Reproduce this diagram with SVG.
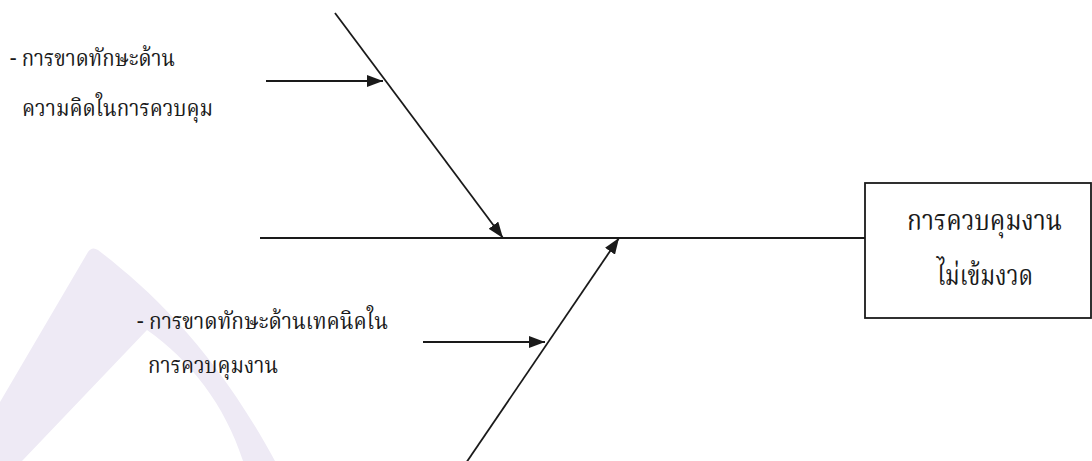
<svg xmlns="http://www.w3.org/2000/svg" width="1092" height="461" viewBox="0 0 1092 461">
  <style>
    .ln { stroke: #1a1a1a; stroke-width: 1.8; fill: none; }
    .arr { marker-end: url(#ah); }
    .t { font-family: "Noto Serif Thai", "Noto Sans Thai", "Liberation Serif", serif; fill: #1a1a1a; }
    .sm { font-size: 23px; }
    .lg { font-size: 28px; }
    .box { fill: #ffffff; stroke: #1a1a1a; stroke-width: 1.8; }
  </style>
  <defs>
    <marker id="ah" markerUnits="userSpaceOnUse" markerWidth="16" markerHeight="12" refX="16" refY="6" orient="auto">
      <path d="M0,0 L16,6 L0,12 Z" fill="#1a1a1a"/>
    </marker>
  </defs>
  <rect width="1092" height="461" fill="#ffffff"/>
  <g id="watermark" fill="#EEEAF5">
    <path d="M88,252 Q92,246 98,250 C150,290 215,350 275,461 L243,461 C225,405 190,360 147,330 L22,461 L0,461 L0,402 Z"/>
  </g>
  <g id="connectors">
    <line class="ln" x1="260" y1="238" x2="865" y2="238"/>
    <line class="ln arr" x1="335" y1="13" x2="503" y2="238"/>
    <line class="ln arr" x1="466" y1="463" x2="619" y2="238"/>
    <line class="ln arr" x1="266" y1="81" x2="383" y2="81"/>
    <line class="ln arr" x1="423" y1="342" x2="545" y2="342"/>
  </g>
  <g id="cause1">
    <text class="t sm" x="10" y="66" textLength="165" lengthAdjust="spacingAndGlyphs">- การขาดทักษะด้าน</text>
    <text class="t sm" x="22" y="116" textLength="191" lengthAdjust="spacingAndGlyphs">ความคิดในการควบคุม</text>
  </g>
  <g id="cause2">
    <text class="t sm" x="137" y="329" textLength="251" lengthAdjust="spacingAndGlyphs">- การขาดทักษะด้านเทคนิคใน</text>
    <text class="t sm" x="148" y="373" textLength="130" lengthAdjust="spacingAndGlyphs">การควบคุมงาน</text>
  </g>
  <g id="effect">
    <rect class="box" x="865" y="183" width="226" height="135"/>
    <text class="t lg" x="907" y="230" textLength="155" lengthAdjust="spacingAndGlyphs">การควบคุมงาน</text>
    <text class="t lg" x="937" y="285" textLength="96" lengthAdjust="spacingAndGlyphs">ไม่เข้มงวด</text>
  </g>
</svg>
